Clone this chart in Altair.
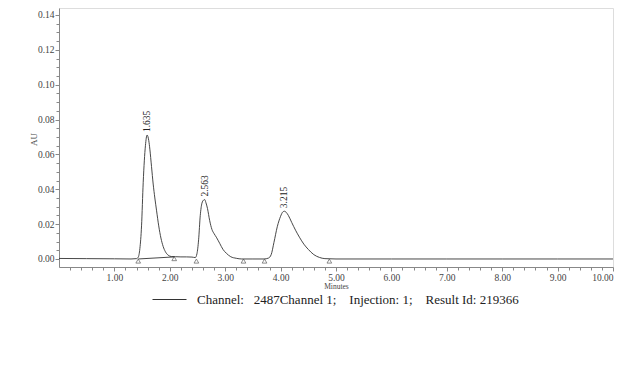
import altair as alt
import pandas as pd

# Chromatogram signal (minutes, AU)
time_min = [0.00, 0.50, 1.00, 1.30, 1.40, 1.43, 1.46, 1.49, 1.52, 1.56, 1.59, 1.62, 1.64,
            1.67, 1.70, 1.73, 1.76, 1.80, 1.84, 1.88, 1.92, 1.97, 2.03, 2.10, 2.20, 2.30,
            2.40, 2.46, 2.49, 2.52, 2.55, 2.58, 2.61, 2.63, 2.65, 2.68, 2.72, 2.76, 2.80,
            2.84, 2.90, 2.96, 3.02, 3.10, 3.20, 3.30, 3.50, 3.70, 3.78, 3.83, 3.88, 3.94,
            4.00, 4.04, 4.07, 4.10, 4.14, 4.20, 4.27, 4.34, 4.42, 4.50, 4.60, 4.70, 4.80,
            5.00, 6.00, 7.00, 8.00, 9.00, 10.00]
signal_au = [0.0003, 0.0002, 0.0001, 0.0000, 0.0002, 0.0010, 0.0060, 0.0190, 0.0440, 0.0650,
             0.0711, 0.0680, 0.0630, 0.0530, 0.0430, 0.0350, 0.0280, 0.0190, 0.0120, 0.0072,
             0.0042, 0.0022, 0.0014, 0.0013, 0.0012, 0.0012, 0.0011, 0.0008, 0.0030, 0.0110,
             0.0250, 0.0320, 0.0338, 0.0341, 0.0325, 0.0290, 0.0220, 0.0170, 0.0145, 0.0125,
             0.0090, 0.0055, 0.0033, 0.0013, 0.0004, 0.0000, 0.0000, 0.0000, 0.0005, 0.0025,
             0.0095, 0.0185, 0.0245, 0.0270, 0.0274, 0.0268, 0.0250, 0.0210, 0.0165, 0.0125,
             0.0085, 0.0055, 0.0025, 0.0009, 0.0002, 0.0000, 0.0000, 0.0000, 0.0000, 0.0000,
             0.0000]

# Peak annotations
peak_time = [1.59, 2.63, 4.07]
peak_au = [0.0711, 0.0341, 0.0274]
peak_label = ["1.635", "2.563", "3.215"]

# Integration markers (triangles)
marker_time = [1.43, 2.08, 2.48, 3.33, 3.71, 4.88]
marker_au = [-0.0012, 0.0002, -0.0012, -0.0012, -0.0012, -0.0012]

# Integration baseline under the first peak
base_time = [1.43, 2.08]
base_au = [0.0000, 0.0012]

x_major = [1, 2, 3, 4, 5, 6, 7, 8, 9, 10]
x_minor = [round(i * 0.2, 1) for i in range(51) if i % 5 != 0]
y_major = [0.00, 0.02, 0.04, 0.06, 0.08, 0.10, 0.12, 0.14]
y_minor = [round(i * 0.005, 3) for i in range(29) if i % 4 != 0]

series_name = "Channel:\u00a0\u00a0\u00a02487Channel 1;\u00a0\u00a0\u00a0\u00a0Injection: 1;\u00a0\u00a0\u00a0\u00a0Result Id: 219366"

sig = pd.DataFrame({"t": time_min, "au": signal_au, "series": series_name})
peaks = pd.DataFrame({"t": peak_time, "au": peak_au, "label": peak_label})
marks = pd.DataFrame({"t": marker_time, "au": marker_au})
base = pd.DataFrame({"t": base_time, "au": base_au})

FONT = "Times New Roman, Liberation Serif, serif"
INK = "#333333"
xs = alt.Scale(domain=[0, 10], nice=False, zero=False)
ys = alt.Scale(domain=[-0.0046, 0.144], nice=False, zero=False)

x_axis = alt.Axis(values=x_major, format=".2f", title="Minutes", orient="bottom",
                  grid=False, tickSize=4, labelFont=FONT, labelFontSize=9.5, labelColor="#444",
                  labelPadding=1, titleFont=FONT, titleFontSize=7.5, titleFontWeight="normal",
                  titleColor="#444", titlePadding=1, domainColor="#888", tickColor="#888")
y_axis = alt.Axis(values=y_major, format=".2f", title="AU", orient="left",
                  grid=False, tickSize=4, labelFont=FONT, labelFontSize=9.5, labelColor="#444",
                  labelPadding=1, titleFont=FONT, titleFontSize=9, titleFontWeight="normal",
                  titleColor="#444", titleX=-26, titleY=131, titleAngle=270,
                  titleAlign="center", titleBaseline="middle",
                  domainColor="#888", tickColor="#888")

line = alt.Chart(sig).mark_line(strokeWidth=0.9, interpolate="monotone").encode(
    x=alt.X("t:Q", scale=xs, axis=x_axis),
    y=alt.Y("au:Q", scale=ys, axis=y_axis),
    color=alt.Color("series:N", scale=alt.Scale(range=[INK]),
                    legend=alt.Legend(title=None, orient="none", legendX=93, legendY=274,
                                      symbolType="stroke", symbolSize=1156,
                                      symbolStrokeWidth=1, symbolStrokeColor=INK,
                                      labelFont=FONT, labelFontSize=13, labelColor="#222",
                                      labelLimit=600, labelOffset=10)),
)

baseline = alt.Chart(base).mark_line(strokeWidth=0.9, color=INK).encode(
    x=alt.X("t:Q", scale=xs, axis=None),
    y=alt.Y("au:Q", scale=ys, axis=None),
)

tri = alt.Chart(marks).mark_point(shape="triangle-up", size=22, filled=False,
                                  color=INK, strokeWidth=0.8).encode(
    x=alt.X("t:Q", scale=xs, axis=None),
    y=alt.Y("au:Q", scale=ys, axis=None),
)

labels = alt.Chart(peaks).mark_text(angle=270, align="left", baseline="middle", dx=3,
                                    font=FONT, fontSize=9.5, color="#222").encode(
    x=alt.X("t:Q", scale=xs, axis=None),
    y=alt.Y("au:Q", scale=ys, axis=None),
    text="label:N",
)

minor_src = pd.DataFrame({"t": [0.0, 10.0], "au": [0.0, 0.14]})
minor = alt.Chart(minor_src).mark_point(opacity=0).encode(
    x=alt.X("t:Q", scale=xs,
            axis=alt.Axis(values=x_minor, labels=False, domain=False, grid=False,
                          tickSize=3, title=None, orient="bottom", tickColor="#888")),
    y=alt.Y("au:Q", scale=ys,
            axis=alt.Axis(values=y_minor, labels=False, domain=False, grid=False,
                          tickSize=3, title=None, orient="left", tickColor="#888")),
)

chart = alt.layer(line, baseline, tri, labels, minor).resolve_axis(
    x="independent", y="independent"
).properties(
    width=554, height=259,
    padding={"left": 51, "top": 0, "right": 8, "bottom": 95},
    autosize=alt.AutoSizeParams(type="none"),
).configure_view(stroke="#999", strokeWidth=1).configure(background="white")

chart.save("out.html", embed_options={"renderer": "svg", "actions": False})
